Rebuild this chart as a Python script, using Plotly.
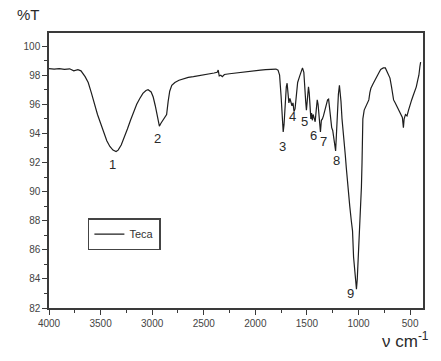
import plotly.graph_objects as go

# wavenumber (cm-1) and transmittance (%T)
wavenumber = [4000, 3950, 3900, 3850, 3800, 3760, 3720, 3690, 3650, 3620, 3590, 3560, 3530, 3500,
              3470, 3440, 3410, 3380, 3350, 3330, 3300, 3270, 3240, 3210, 3180, 3150, 3120, 3090,
              3060, 3040, 3010, 2990, 2970, 2955, 2940, 2930, 2915, 2895, 2875, 2860, 2845, 2830,
              2810, 2780, 2740, 2700, 2650, 2600, 2550, 2500, 2450, 2400, 2370, 2360, 2350, 2335,
              2320, 2300, 2250, 2200, 2150, 2100, 2050, 2000, 1950, 1900, 1850, 1800, 1780, 1765,
              1750, 1740, 1730, 1722, 1712, 1700, 1692, 1682, 1675, 1665, 1655, 1645, 1635, 1625,
              1615, 1605, 1590, 1572, 1555, 1543, 1530, 1520, 1512, 1505, 1495, 1485, 1478, 1470,
              1462, 1455, 1448, 1440, 1430, 1420, 1410, 1400, 1392, 1385, 1375, 1369, 1360, 1350,
              1340, 1330, 1315, 1300, 1290, 1280, 1270, 1260, 1250, 1240, 1230, 1222, 1215, 1205,
              1195, 1185, 1178, 1170, 1160, 1150, 1140, 1128, 1118, 1108, 1098, 1085, 1070, 1058,
              1048, 1038, 1028, 1020, 1012, 1005, 998, 988, 980, 972, 966, 962, 958, 945, 932, 915,
              900, 890, 880, 860, 840, 820, 800, 785, 760, 740, 725, 710, 695, 680, 670, 660, 645,
              630, 615, 600, 585, 575, 565, 558, 545, 530, 515, 500, 485, 470, 455, 440, 425, 415,
              405, 398]
transmittance = [98.45, 98.42, 98.45, 98.40, 98.44, 98.30, 98.38, 98.30, 97.9, 97.5, 96.8, 96.0, 95.3, 94.7,
                 94.1, 93.5, 93.1, 92.85, 92.75, 92.85, 93.2, 93.7, 94.3, 94.9, 95.5, 96.0, 96.4, 96.75,
                 96.95, 97.0, 96.85, 96.5, 95.9, 95.4, 94.8, 94.5, 94.7, 94.9, 95.1, 95.3, 96.2, 96.9,
                 97.3, 97.5, 97.65, 97.75, 97.85, 97.9, 97.95, 98.05, 98.1, 98.15, 98.2, 98.35, 97.95, 98.0,
                 97.9, 98.05, 98.1, 98.15, 98.2, 98.2, 98.25, 98.3, 98.35, 98.38, 98.4, 98.42, 98.35, 98.0,
                 96.5, 94.8, 94.1, 94.6, 96.3, 97.2, 97.45, 96.6, 96.1, 96.4, 96.2, 95.9, 96.1, 95.5,
                 95.7, 96.7, 97.5, 97.9, 98.3, 98.5, 98.2, 97.4, 96.2, 95.6, 96.5, 97.2, 96.8, 95.7,
                 95.0, 95.4, 94.9, 95.3, 95.0, 94.8, 95.6, 96.3, 96.0, 95.5, 94.3, 94.1, 94.9, 95.0,
                 95.2, 95.5, 95.9, 96.3, 96.35, 95.6, 94.8, 94.4, 94.2, 93.7, 93.0, 92.8, 93.8, 95.6,
                 96.7, 97.3, 96.9, 96.2, 95.0, 94.0, 93.4, 92.5, 91.6, 90.6, 90.0, 89.0, 88.0, 87.3,
                 85.5, 84.5, 83.7, 83.3, 84.0, 85.0, 86.0, 87.5, 88.3, 90.3, 92.0, 94.0, 95.0, 95.6, 95.8, 96.0,
                 96.3, 96.8, 97.1, 97.4, 97.7, 97.9, 98.2, 98.4, 98.5, 98.5, 98.3, 98.1, 97.8, 97.2, 96.6, 96.3, 96.1,
                 95.9, 95.7, 95.5, 95.3, 95.1, 94.4, 95.0, 95.3, 95.2, 95.6, 96.0, 96.3, 96.6, 96.9, 97.2, 97.7, 98.0,
                 98.6, 98.9]

# band labels and their positions (cm-1, %T)
band_labels = ["1", "2", "3", "4", "5", "6", "7", "8", "9"]
band_label_x = [3388, 2951, 1738, 1640, 1524, 1437, 1340, 1213, 1077]
band_label_y = [91.86, 93.66, 93.1, 95.17, 94.83, 93.86, 93.45, 92.14, 82.97]

x_ticks = [4000, 3500, 3000, 2500, 2000, 1500, 1000, 500]
y_ticks = [82, 84, 86, 88, 90, 92, 94, 96, 98, 100]

FONT = "Liberation Sans, Arial, sans-serif"
AX = "#3a3a3a"

fig = go.Figure()
fig.add_trace(go.Scatter(x=wavenumber, y=transmittance, mode="lines", name="Teca",
                         line=dict(color="#1e1e1e", width=1.2)))

annotations = []
for t, x, y in zip(band_labels, band_label_x, band_label_y):
    annotations.append(dict(x=x, y=y, xref="x", yref="y", text=t, showarrow=False,
                            font=dict(family=FONT, size=13, color="#2a2a2a")))
annotations.append(dict(xref="paper", yref="paper", x=-0.09, y=1.03, xanchor="left", yanchor="bottom",
                        text="%T", showarrow=False, font=dict(family=FONT, size=15, color="#2a2a2a")))
annotations.append(dict(xref="paper", yref="paper", x=1.022, y=-0.07, xanchor="right", yanchor="top",
                        text="ν cm<sup>-1</sup>", showarrow=False,
                        font=dict(family=FONT, size=17, color="#2a2a2a")))

fig.update_layout(
    width=441, height=361,
    margin=dict(l=49, r=18, t=33, b=53),
    paper_bgcolor="white", plot_bgcolor="white",
    font=dict(family=FONT, size=10, color="#444"),
    showlegend=True,
    legend=dict(x=0.104, y=0.327, xanchor="left", yanchor="top",
                bordercolor="#444", borderwidth=1.5, bgcolor="white",
                font=dict(family=FONT, size=11, color="#333"),
                itemwidth=30, tracegroupgap=0),
    annotations=annotations,
    xaxis=dict(range=[4000, 375], tickvals=x_ticks, ticks="outside", ticklen=5, tickwidth=1.2,
               tickcolor=AX, showline=True, linecolor=AX, linewidth=1.5, mirror=True,
               showgrid=False, zeroline=False,
               minor=dict(dtick=250, tick0=0, ticks="outside", ticklen=3, tickcolor=AX, tickwidth=1.2),
               tickfont=dict(family=FONT, size=10, color="#444")),
    yaxis=dict(range=[82, 100.9], tickvals=y_ticks, ticks="outside", ticklen=5, tickwidth=1.2,
               tickcolor=AX, showline=True, linecolor=AX, linewidth=1.5, mirror=True,
               showgrid=False, zeroline=False,
               minor=dict(dtick=1, tick0=0, ticks="outside", ticklen=3, tickcolor=AX, tickwidth=1.2),
               tickfont=dict(family=FONT, size=10, color="#444")),
)

fig.write_html("out.html", config={"displayModeBar": False},
               post_script="document.body.style.margin='0';document.body.style.overflow='hidden';")
